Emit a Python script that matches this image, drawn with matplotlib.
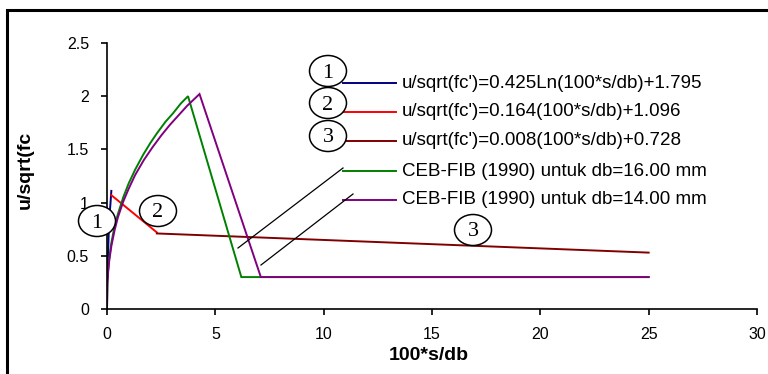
import matplotlib
matplotlib.use("Agg")
import matplotlib.pyplot as plt
from matplotlib.patches import Ellipse, Rectangle
from matplotlib.lines import Line2D

plt.rcParams['font.family'] = ['Liberation Sans', 'DejaVu Sans']

# ---- data ----
eq1_x = [0.03, 0.05, 0.08, 0.12, 0.16, 0.20]
eq1_y = [0.30, 0.52, 0.72, 0.89, 0.99, 1.11]

eq2_x = [0.20, 2.30]
eq2_y = [1.07, 0.72]

eq3_x = [2.30, 25.0]
eq3_y = [0.71, 0.53]

ceb16_x = [0, 0.02, 0.05, 0.1, 0.2, 0.35, 0.5, 0.75, 1.0, 1.3, 1.67, 2.0, 2.3, 2.7, 3.05, 3.4, 3.74, 6.2, 25.0]
ceb16_y = [0, 0.25, 0.36, 0.47, 0.62, 0.78, 0.89, 1.05, 1.18, 1.31, 1.45, 1.56, 1.65, 1.76, 1.84, 1.93, 2.00, 0.30, 0.30]

ceb14_x = [0, 0.02, 0.05, 0.1, 0.2, 0.35, 0.5, 0.75, 1.0, 1.3, 1.7, 2.1, 2.5, 2.9, 3.3, 3.7, 4.27, 7.1, 25.0]
ceb14_y = [0, 0.24, 0.34, 0.45, 0.59, 0.74, 0.86, 1.01, 1.13, 1.26, 1.40, 1.52, 1.63, 1.73, 1.82, 1.91, 2.02, 0.30, 0.30]

labels = ["u/sqrt(fc')=0.425Ln(100*s/db)+1.795",
          "u/sqrt(fc')=0.164(100*s/db)+1.096",
          "u/sqrt(fc')=0.008(100*s/db)+0.728",
          "CEB-FIB (1990) untuk db=16.00 mm",
          "CEB-FIB (1990) untuk db=14.00 mm"]
colors = ['#000080', '#FF0000', '#800000', '#008000', '#800080']

xticks = [0, 5, 10, 15, 20, 25, 30]
yticks = [0, 0.5, 1, 1.5, 2, 2.5]
ytick_labels = ['0', '0.5', '1', '1.5', '2', '2.5']

W, H = 768, 374
fig = plt.figure(figsize=(W / 100, H / 100), dpi=100)

def fx(px):
    return px / W

def fy(py):
    return 1 - py / H

ax = fig.add_axes([fx(107), fy(309), fx(757) - fx(107), fy(43) - fy(309)])

series = [(eq1_x, eq1_y), (eq2_x, eq2_y), (eq3_x, eq3_y), (ceb16_x, ceb16_y), (ceb14_x, ceb14_y)]
for (xs, ys), c in zip(series, colors):
    ax.plot(xs, ys, color=c, lw=1.4, solid_joinstyle='miter')

ax.set_xlim(0, 30)
ax.set_ylim(0, 2.5)
ax.set_xticks(xticks)
ax.set_xticklabels([str(t) for t in xticks])
ax.set_yticks(yticks)
ax.set_yticklabels(ytick_labels)
for s in ['top', 'right']:
    ax.spines[s].set_visible(False)
for s in ['left', 'bottom']:
    ax.spines[s].set_linewidth(1.2)
ax.tick_params(axis='both', direction='out', length=4, width=1.2, labelsize=11.5)
ax.tick_params(axis='y', pad=9)
ax.tick_params(axis='x', pad=9)

fig.text(fx(25), fy(170), 'u/sqrt(fc', rotation=90, ha='center', va='center',
         fontsize=14, fontweight='bold')
fig.text(fx(429), fy(356), '100*s/db', ha='center', va='center',
         fontsize=14, fontweight='bold')

# outer frame
fig.add_artist(Rectangle((fx(7), fy(420)), 1.2, fy(10) - fy(420), transform=fig.transFigure,
                         fill=False, lw=2.2, ec='black', clip_on=False))

# legend
rows = [83, 112, 141, 171, 200]
for lab, c, ry in zip(labels, colors, rows):
    fig.add_artist(Line2D([fx(343), fx(396)], [fy(ry), fy(ry)], color=c, lw=1.4,
                          transform=fig.transFigure))
    fig.text(fx(402), fy(ry), lab, ha='left', va='center', fontsize=13.5)

# pointer lines
fig.add_artist(Line2D([fx(238), fx(343)], [fy(248), fy(168)], color='black', lw=0.9,
                      transform=fig.transFigure))
fig.add_artist(Line2D([fx(261), fx(353)], [fy(265), fy(194)], color='black', lw=0.9,
                      transform=fig.transFigure))

# circled numbers
circles = [('1', 328, 71), ('2', 328, 103), ('3', 328, 136),
           ('1', 97, 221), ('2', 158, 211), ('3', 473, 230)]
for txt, cx, cy in circles:
    e = Ellipse((fx(cx), fy(cy)), 37 / W, 31 / H, transform=fig.transFigure,
                fc='white', ec='black', lw=1.1, zorder=5)
    fig.add_artist(e)
    fig.text(fx(cx), fy(cy + 2), txt, ha='center', va='center', fontsize=16,
             family=['Liberation Serif', 'DejaVu Serif'], zorder=6)

fig.savefig('out.png', dpi=100)
